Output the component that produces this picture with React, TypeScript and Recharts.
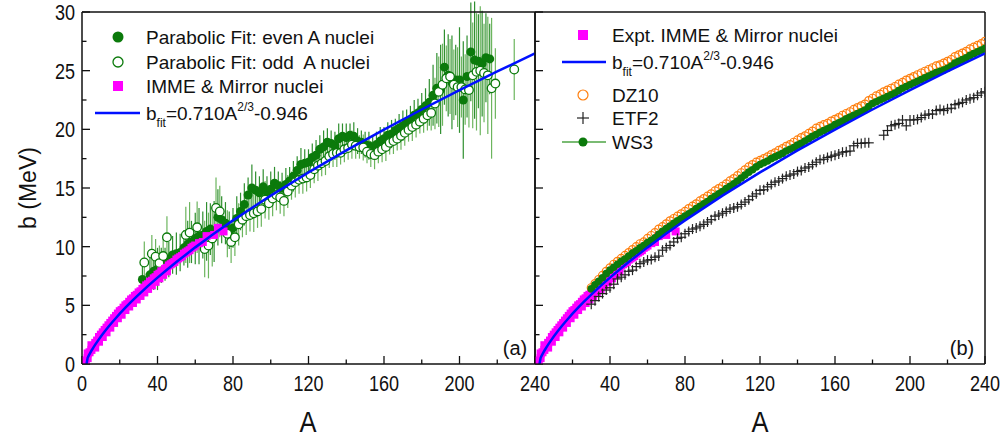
import { ComposedChart, Scatter, XAxis, YAxis, ErrorBar } from 'recharts';

// ---- data ----
const fitA = [2.4, 3, 3.5, 4, 5, 6, 7, 8, 10, 12, 14, 16, 18, 20, 23, 26, 30, 35, 40, 45, 50, 60, 70, 80, 100, 120, 140, 160, 180, 200, 220, 240];
const fitB = [0, 0.53, 0.69, 0.84, 1.13, 1.4, 1.65, 1.89, 2.35, 2.77, 3.17, 3.56, 3.92, 4.29, 4.8, 5.29, 5.91, 6.66, 7.36, 8.03, 8.69, 9.94, 11.12, 12.24, 14.35, 16.33, 18.2, 19.98, 21.69, 23.34, 24.93, 26.47];

const mirA = [2, 3, 3, 4, 5, 5, 6, 7, 7, 8, 9, 9, 10, 11, 11, 12, 13, 13, 14, 15, 15, 16, 17, 17, 18, 19, 19, 20, 21, 21, 22, 23, 23, 24, 25, 25, 26, 27, 27, 28, 29, 29, 30, 31, 31, 32, 33, 33, 34, 35, 35, 36, 37, 37, 38, 39, 39, 40, 41, 41, 42, 43, 43, 44, 45, 45, 46, 47, 48, 49, 50, 51, 52, 53, 54, 55, 56, 57, 58, 59, 60, 62, 64, 66, 70, 72, 75];
const mirB = [0.3, 0.5, 0.9, 1.0, 1.2, 1.6, 1.5, 1.8, 1.4, 2.0, 2.3, 1.9, 2.5, 2.7, 2.3, 2.9, 3.1, 2.7, 3.3, 3.5, 3.1, 3.7, 3.9, 3.5, 4.1, 4.3, 3.9, 4.5, 4.6, 4.2, 4.8, 5.0, 4.6, 5.1, 5.3, 4.9, 5.5, 5.6, 5.2, 5.8, 5.9, 5.5, 6.1, 6.2, 5.8, 6.4, 6.5, 6.1, 6.7, 6.8, 6.4, 7.0, 7.1, 6.7, 7.3, 7.4, 7.0, 7.6, 7.7, 7.3, 7.9, 7.9, 7.6, 8.1, 8.2, 7.9, 8.4, 8.5, 8.6, 8.7, 8.9, 9.0, 9.1, 9.2, 9.4, 9.5, 9.6, 9.7, 9.9, 10.0, 10.1, 10.3, 10.4, 10.9, 11.0, 11.6, 11.3];

const evenA = [32, 36, 38, 40, 42, 44, 46, 48, 50, 52, 54, 56, 58, 60, 62, 64, 66, 68, 70, 72, 74, 76, 78, 80, 82, 84, 86, 88, 90, 92, 94, 96, 98, 100, 102, 104, 106, 108, 110, 112, 114, 116, 118, 120, 122, 124, 126, 128, 130, 132, 134, 136, 138, 140, 142, 144, 146, 148, 150, 152, 154, 156, 158, 160, 162, 164, 166, 168, 170, 172, 174, 176, 178, 180, 182, 184, 186, 188, 190, 192, 194, 196, 198, 200, 202, 204, 206, 208, 210, 212, 214, 216];
const evenB = [7.2, 7.6, 7.9, 8.1, 8.4, 8.5, 8.9, 9.3, 9.4, 9.5, 9.9, 10.2, 10.4, 10.7, 10.9, 11.0, 11.3, 11.5, 11.3, 12.5, 12.3, 12.0, 11.4, 11.6, 12.4, 13.0, 13.6, 14.4, 15.0, 14.8, 14.6, 15.1, 14.7, 14.9, 15.4, 15.2, 15.0, 15.3, 15.6, 16.0, 16.5, 17.0, 17.1, 17.2, 17.6, 17.8, 18.3, 18.5, 18.9, 18.8, 18.6, 19.2, 19.4, 19.3, 19.5, 19.4, 19.0, 18.9, 18.7, 18.6, 18.5, 18.7, 19.0, 19.2, 19.5, 19.6, 19.9, 20.1, 20.3, 20.6, 20.8, 21.2, 21.4, 21.7, 22.0, 22.3, 22.9, 23.5, 23.4, 25.3, 24.6, 24.0, 24.2, 24.2, 22.5, 24.5, 26.6, 25.9, 25.8, 25.6, 26.1, 26.0];
const evenErr = [1.6, 1.5, 1.6, 1.8, 1.5, 1.4, 1.5, 1.6, 1.8, 1.6, 1.5, 2.0, 1.8, 2.2, 2.4, 2.0, 2.5, 2.2, 2.6, 2.4, 2.0, 1.8, 1.6, 1.7, 1.9, 1.6, 1.8, 1.5, 2.0, 1.6, 1.4, 1.5, 1.3, 1.5, 1.4, 1.2, 1.3, 1.4, 1.2, 1.3, 1.2, 1.4, 1.2, 1.1, 1.2, 1.3, 1.2, 1.4, 1.2, 1.1, 1.2, 1.3, 1.1, 1.2, 1.0, 1.2, 1.1, 1.0, 1.1, 1.2, 1.0, 1.1, 1.2, 1.0, 1.1, 1.2, 1.0, 1.2, 1.3, 1.1, 1.2, 1.3, 1.2, 1.4, 1.5, 2.0, 2.6, 3.0, 3.8, 3.2, 3.5, 4.0, 3.0, 4.5, 5.0, 3.5, 4.2, 5.0, 4.0, 4.5, 3.8, 3.0];

const oddA = [33, 37, 39, 41, 43, 45, 55, 57, 61, 65, 67, 69, 71, 73, 77, 79, 81, 83, 85, 87, 89, 91, 93, 95, 97, 99, 101, 103, 105, 107, 109, 111, 113, 115, 117, 119, 121, 123, 125, 127, 129, 131, 133, 135, 137, 139, 141, 143, 145, 147, 149, 151, 153, 155, 157, 159, 161, 163, 165, 167, 169, 171, 173, 175, 177, 179, 181, 183, 185, 187, 189, 191, 193, 195, 197, 199, 201, 203, 205, 207, 209, 211, 213, 215, 217, 219, 229];
const oddB = [8.65, 9.4, 9.15, 8.6, 9.2, 10.8, 11.0, 11.2, 11.65, 9.8, 10.1, 10.7, 13.3, 13.0, 11.1, 10.4, 10.8, 11.9, 12.3, 12.6, 12.7, 12.85, 13.0, 13.2, 14.0, 13.7, 14.1, 14.4, 14.2, 13.9, 14.7, 15.2, 15.5, 15.7, 15.8, 15.9, 16.1, 16.6, 16.9, 17.1, 17.3, 17.7, 17.9, 18.0, 18.0, 18.3, 18.4, 18.7, 18.6, 18.5, 18.45, 18.1, 17.9, 17.8, 18.1, 18.3, 18.5, 18.85, 19.0, 19.2, 19.45, 19.7, 19.95, 20.2, 20.4, 20.65, 20.9, 21.2, 21.4, 22.2, 23.2, 23.8, 24.35, 24.5, 23.8, 23.6, 23.6, 23.4, 23.35, 24.6, 24.9, 25.0, 24.8, 24.6, 23.5, 23.9, 25.1];
const oddErr = [1.8, 1.6, 1.5, 1.5, 1.6, 1.8, 2.4, 2.6, 2.2, 2.4, 2.8, 2.4, 2.6, 2.2, 2.0, 1.8, 1.6, 1.8, 1.5, 1.6, 1.4, 1.6, 1.4, 1.5, 1.6, 1.4, 1.5, 1.3, 1.4, 1.3, 1.4, 1.2, 1.3, 1.2, 1.3, 1.2, 1.1, 1.2, 1.3, 1.1, 1.2, 1.0, 1.1, 1.2, 1.0, 1.1, 1.0, 1.2, 1.1, 1.0, 1.1, 1.0, 1.1, 1.2, 1.0, 1.1, 1.2, 1.0, 1.1, 1.0, 1.2, 1.1, 1.0, 1.2, 1.1, 1.0, 1.2, 1.3, 1.5, 2.2, 3.0, 3.5, 2.8, 3.2, 3.0, 3.4, 2.6, 3.0, 3.2, 4.5, 5.0, 5.5, 4.2, 5.0, 6.0, 3.0, 2.6];

const modA = [30, 32, 34, 36, 38, 40, 42, 44, 46, 48, 50, 52, 54, 56, 58, 60, 62, 64, 66, 68, 70, 72, 74, 76, 78, 80, 82, 84, 86, 88, 90, 92, 94, 96, 98, 100, 102, 104, 106, 108, 110, 112, 114, 116, 118, 120, 122, 124, 126, 128, 130, 132, 134, 136, 138, 140, 142, 144, 146, 148, 150, 152, 154, 156, 158, 160, 162, 164, 166, 168, 170, 172, 174, 176, 178, 180, 182, 184, 186, 188, 190, 192, 194, 196, 198, 200, 202, 204, 206, 208, 210, 212, 214, 216, 218, 220, 222, 224, 226, 228, 230, 232, 234, 236, 238, 240];
const ws3B = [6.4, 6.75, 7.05, 7.35, 7.7, 8.0, 8.25, 8.5, 8.75, 8.95, 9.2, 9.45, 9.65, 9.9, 10.1, 10.35, 10.55, 10.75, 11.05, 11.3, 11.55, 11.75, 12.0, 12.2, 12.4, 12.6, 12.8, 13.0, 13.25, 13.45, 13.65, 13.85, 14.1, 14.3, 14.5, 14.7, 14.95, 15.15, 15.35, 15.6, 15.85, 16.1, 16.35, 16.55, 16.8, 17.0, 17.15, 17.3, 17.5, 17.65, 17.8, 17.95, 18.15, 18.3, 18.45, 18.65, 18.8, 19.0, 19.2, 19.4, 19.55, 19.75, 19.9, 20.05, 20.2, 20.4, 20.55, 20.7, 20.9, 21.05, 21.2, 21.35, 21.5, 21.65, 21.95, 22.2, 22.35, 22.5, 22.65, 22.8, 22.95, 23.1, 23.3, 23.5, 23.65, 23.8, 23.95, 24.1, 24.25, 24.4, 24.55, 24.7, 24.85, 24.95, 25.05, 25.2, 25.4, 25.65, 25.8, 25.95, 26.1, 26.3, 26.45, 26.6, 26.75, 26.9];
const dz10B = [6.5, 6.85, 7.2, 7.55, 7.9, 8.2, 8.5, 8.75, 9.0, 9.25, 9.5, 9.75, 10.0, 10.25, 10.4, 10.7, 10.95, 11.2, 11.5, 11.7, 11.95, 12.2, 12.4, 12.6, 12.8, 13.0, 13.25, 13.45, 13.65, 13.9, 14.1, 14.3, 14.5, 14.75, 14.95, 15.15, 15.35, 15.6, 15.8, 16.05, 16.3, 16.55, 16.8, 17.0, 17.2, 17.35, 17.5, 17.65, 17.85, 18.0, 18.2, 18.35, 18.55, 18.7, 18.9, 19.1, 19.3, 19.45, 19.65, 19.85, 20.1, 20.25, 20.4, 20.5, 20.7, 20.85, 21.0, 21.2, 21.35, 21.5, 21.7, 21.85, 22.0, 22.15, 22.45, 22.65, 22.85, 23.0, 23.2, 23.35, 23.5, 23.65, 23.85, 24.0, 24.2, 24.35, 24.5, 24.65, 24.8, 24.95, 25.1, 25.25, 25.4, 25.5, 25.65, 25.8, 25.95, 26.2, 26.35, 26.5, 26.65, 26.85, 27.0, 27.15, 27.3, 27.5];

const etfA = [30, 32, 34, 36, 38, 40, 42, 44, 46, 48, 50, 52, 54, 56, 58, 60, 62, 64, 66, 68, 70, 72, 74, 76, 78, 80, 82, 84, 86, 88, 90, 92, 94, 96, 98, 100, 102, 104, 106, 108, 110, 112, 114, 116, 118, 120, 122, 124, 126, 128, 130, 132, 134, 136, 138, 140, 142, 144, 146, 148, 150, 152, 154, 156, 158, 160, 162, 164, 166, 168, 170, 172, 174, 176, 178, 186, 188, 190, 192, 194, 196, 198, 200, 202, 204, 206, 208, 210, 212, 214, 216, 218, 220, 222, 224, 226, 228, 230, 232, 234, 236, 238, 240];
const etfB = [5.1, 5.4, 5.75, 6.0, 6.3, 6.5, 6.8, 7.25, 7.4, 7.6, 7.9, 8.0, 8.3, 8.55, 8.7, 8.85, 8.9, 9.1, 9.2, 9.7, 9.9, 10.1, 10.4, 10.7, 10.8, 11.1, 11.3, 11.5, 11.6, 11.75, 11.9, 12.1, 12.3, 12.6, 12.7, 12.85, 13.0, 13.2, 13.3, 13.4, 13.6, 13.8, 14.0, 14.3, 14.5, 14.8, 14.85, 15.1, 15.3, 15.5, 15.6, 15.8, 16.0, 16.1, 16.2, 16.4, 16.5, 16.7, 16.8, 17.0, 17.2, 17.4, 17.45, 17.6, 17.7, 17.8, 17.9, 18.05, 18.1, 18.15, 18.6, 18.8, 18.8, 18.85, 18.85, 19.5, 19.9, 20.3, 20.4, 20.5, 20.8, 20.3, 20.8, 20.8, 20.85, 21.0, 21.2, 21.3, 21.3, 21.6, 21.7, 21.6, 21.75, 21.8, 22.1, 22.2, 22.3, 22.5, 22.6, 22.7, 22.9, 23.1, 23.2];

const xTicks = [0, 20, 40, 60, 80, 100, 120, 140, 160, 180, 200, 220, 240];
const yTicks = [0, 2.5, 5, 7.5, 10, 12.5, 15, 17.5, 20, 22.5, 25, 27.5, 30];

const fit = fitA.map((A, i) => ({ A, b: fitB[i] }));
const mirror = mirA.map((A, i) => ({ A, b: mirB[i] }));
const even = evenA.map((A, i) => ({ A, b: evenB[i], err: evenErr[i] }));
const odd = oddA.map((A, i) => ({ A, b: oddB[i], err: oddErr[i] }));
const ws3 = modA.map((A, i) => ({ A, b: ws3B[i] }));
const dz10 = modA.map((A, i) => ({ A, b: dz10B[i] }));
const etf2 = etfA.map((A, i) => ({ A, b: etfB[i] }));

const FONT = '"Liberation Sans", Arial, sans-serif';
const INK = '#111';
const GREEN = '#0b7a0b';
const BAR = '#4ea444';
const BAR_EVEN = '#2f8f2f';
const BAR_ODD = '#6cb55e';
const MAGENTA = '#ff00ff';
const BLUE = '#0010ff';
const ORANGE = '#ff7f0e';

const W = 1008;
const H = 441;

// tick renderers: tickSize 0 / tickMargin 0 puts (x, y) right on the axis line
const narrowText = (x: number, y: number, txt: string, size: number, anchor: string) => (
  <text transform={`translate(${x},${y}) scale(0.82,1)`} textAnchor={anchor} fontSize={size} fill={INK} fontFamily={FONT}>
    {txt}
  </text>
);

const bottomTick = (showZero: boolean) => (p: any) => {
  const v = p.payload.value;
  const major = v % 40 === 0;
  return (
    <g>
      <line x1={p.x} x2={p.x} y1={p.y} y2={p.y - (major ? 8 : 4.5)} stroke={INK} strokeWidth={1.3} />
      {major && (showZero || v !== 0) ? narrowText(p.x, p.y + 27, String(v), 22, 'middle') : null}
    </g>
  );
};
const topTick = (p: any) => {
  const major = p.payload.value % 40 === 0;
  return <line x1={p.x} x2={p.x} y1={p.y} y2={p.y + (major ? 8 : 4.5)} stroke={INK} strokeWidth={1.3} />;
};
const leftTick = (showLabels: boolean) => (p: any) => {
  const v = p.payload.value;
  const major = v % 5 === 0;
  return (
    <g>
      <line x1={p.x} x2={p.x + (major ? 8 : 4.5)} y1={p.y} y2={p.y} stroke={INK} strokeWidth={1.3} />
      {major && showLabels ? narrowText(p.x - 7, p.y + 8, String(v), 22, 'end') : null}
    </g>
  );
};
const rightTick = (p: any) => {
  const major = p.payload.value % 5 === 0;
  return <line x1={p.x} x2={p.x - (major ? 8 : 4.5)} y1={p.y} y2={p.y} stroke={INK} strokeWidth={1.3} />;
};

const filledDot = (p: any) => <circle cx={p.cx} cy={p.cy} r={4.5} fill={GREEN} />;
const openDot = (p: any) => <circle cx={p.cx} cy={p.cy} r={4.3} fill="#fff" stroke={GREEN} strokeWidth={1.3} />;
const square = (p: any) => <rect x={p.cx - 4} y={p.cy - 4} width={8} height={8} fill={MAGENTA} />;
const orangeRing = (p: any) => <circle cx={p.cx} cy={p.cy} r={4} fill="none" stroke={ORANGE} strokeWidth={1.2} />;
const ws3Dot = (p: any) => <circle cx={p.cx} cy={p.cy} r={3.8} fill={GREEN} />;
const plus = (p: any) => (
  <g stroke="#222" strokeWidth={1.2}>
    <line x1={p.cx - 5} x2={p.cx + 5} y1={p.cy} y2={p.cy} />
    <line x1={p.cx} x2={p.cx} y1={p.cy - 5} y2={p.cy + 5} />
  </g>
);
const noDot = () => <g />;

function Axes({ left }: { left: boolean }) {
  return (
    <>
      <XAxis xAxisId="b" dataKey="A" type="number" domain={[0, 240]} ticks={xTicks} interval={0} allowDataOverflow
        height={30} tickSize={0} tickMargin={0} tick={bottomTick(left)} axisLine={{ stroke: INK, strokeWidth: 1.5 }} />
      <XAxis xAxisId="t" orientation="top" dataKey="A" type="number" domain={[0, 240]} ticks={xTicks} interval={0}
        height={2} tickSize={0} tickMargin={0} tick={topTick} axisLine={{ stroke: INK, strokeWidth: 1.5 }} />
      <YAxis yAxisId="l" type="number" domain={[0, 30]} ticks={yTicks} interval={0} allowDataOverflow
        width={60} tickSize={0} tickMargin={0} tick={leftTick(left)} axisLine={{ stroke: INK, strokeWidth: 1.5 }} />
      <YAxis yAxisId="r" orientation="right" type="number" domain={[0, 30]} ticks={yTicks} interval={0}
        width={2} tickSize={0} tickMargin={0} tick={rightTick} axisLine={{ stroke: INK, strokeWidth: 1.5 }} />
    </>
  );
}

const legendText = { fontFamily: FONT, fontSize: 19, fill: INK, style: { whiteSpace: 'pre' as const } };

function FitLabel({ x, y }: { x: number; y: number }) {
  return (
    <text x={x} y={y} {...legendText}>
      b<tspan fontSize={12} dy={7}>fit</tspan>
      <tspan dy={-7}>=0.710A</tspan>
      <tspan fontSize={12} dy={-9}>2/3</tspan>
      <tspan dy={9}>-0.946</tspan>
    </text>
  );
}

function Overlay() {
  return (
    <svg width={W} height={H} style={{ position: 'absolute', left: 0, top: 0 }}>
      {/* left legend */}
      <circle cx={118} cy={37} r={5.5} fill={GREEN} />
      <text x={146} y={44} {...legendText}>Parabolic Fit: even A nuclei</text>
      <circle cx={118} cy={62} r={5} fill="#fff" stroke={GREEN} strokeWidth={1.3} />
      <text x={146} y={69} {...legendText}>{'Parabolic Fit: odd  A nuclei'}</text>
      <rect x={113} y={81} width={10} height={10} fill={MAGENTA} />
      <text x={146} y={93} {...legendText}>IMME &amp; Mirror nuclei</text>
      <line x1={95} x2={140} y1={113} y2={113} stroke={BLUE} strokeWidth={2.5} />
      <FitLabel x={146} y={120} />
      {/* right legend */}
      <rect x={578} y={30} width={10} height={10} fill={MAGENTA} />
      <text x={612} y={42} {...legendText}>Expt. IMME &amp; Mirror nuclei</text>
      <line x1={562} x2={606} y1={62} y2={62} stroke={BLUE} strokeWidth={2.5} />
      <FitLabel x={612} y={69} />
      <circle cx={583} cy={95} r={5} fill="none" stroke={ORANGE} strokeWidth={1.2} />
      <text x={612} y={102} {...legendText}>DZ10</text>
      <g stroke="#222" strokeWidth={1.2}>
        <line x1={577} x2={589} y1={118} y2={118} />
        <line x1={583} x2={583} y1={112} y2={124} />
      </g>
      <text x={612} y={125} {...legendText}>ETF2</text>
      <line x1={562} x2={606} y1={142} y2={142} stroke={BAR} strokeWidth={1.5} />
      <circle cx={583} cy={142} r={4.5} fill={GREEN} />
      <text x={612} y={149} {...legendText}>WS3</text>
      {/* panel tags and axis titles */}
      <text x={515} y={355} textAnchor="middle" fontSize={20} fontFamily={FONT} fill={INK}>(a)</text>
      <text x={962} y={355} textAnchor="middle" fontSize={20} fontFamily={FONT} fill={INK}>(b)</text>
      <text transform="translate(308,432) scale(0.85,1)" textAnchor="middle" fontSize={30} fontFamily={FONT} fill={INK}>A</text>
      <text transform="translate(760,432) scale(0.85,1)" textAnchor="middle" fontSize={30} fontFamily={FONT} fill={INK}>A</text>
      <text transform="translate(36,188) rotate(-90)" textAnchor="middle" fontSize={23} fontFamily={FONT} fill={INK}>b (MeV)</text>
    </svg>
  );
}

const ids = { xAxisId: 'b', yAxisId: 'l' } as const;

// the fit curve is drawn as a joined scatter so that it sits above the markers
const FitCurve = () => (
  <Scatter {...ids} data={fit} dataKey="b" shape={noDot} line={{ stroke: BLUE, strokeWidth: 2.5 }} lineType="joint" isAnimationActive={false} />
);

export default function App() {
  return (
    <div style={{ position: 'absolute', left: 0, top: 0, width: W, height: H, background: '#fff' }}>
      <div style={{ position: 'absolute', left: 0, top: 0 }}>
        <ComposedChart width={W} height={H} margin={{ top: 10, right: 471, bottom: 47, left: 22 }}>
          {Axes({ left: true })}
          <Scatter {...ids} data={even} dataKey="b" shape={filledDot} isAnimationActive={false}>
            <ErrorBar dataKey="err" direction="y" width={0} stroke={BAR_EVEN} strokeWidth={1.2} isAnimationActive={false} />
          </Scatter>
          <Scatter {...ids} data={odd} dataKey="b" shape={openDot} isAnimationActive={false}>
            <ErrorBar dataKey="err" direction="y" width={0} stroke={BAR_ODD} strokeWidth={1.2} isAnimationActive={false} />
          </Scatter>
          <Scatter {...ids} data={mirror} dataKey="b" shape={square} isAnimationActive={false} />
          {FitCurve()}
        </ComposedChart>
      </div>
      <div style={{ position: 'absolute', left: 0, top: 0 }}>
        <ComposedChart width={W} height={H} margin={{ top: 10, right: 21, bottom: 47, left: 475 }}>
          {Axes({ left: false })}
          <Scatter {...ids} data={mirror} dataKey="b" shape={square} isAnimationActive={false} />
          <Scatter {...ids} data={dz10} dataKey="b" shape={orangeRing} isAnimationActive={false} />
          <Scatter {...ids} data={ws3} dataKey="b" shape={ws3Dot} line={{ stroke: BAR, strokeWidth: 1 }} isAnimationActive={false} />
          <Scatter {...ids} data={etf2} dataKey="b" shape={plus} isAnimationActive={false} />
          {FitCurve()}
        </ComposedChart>
      </div>
      <Overlay />
    </div>
  );
}
